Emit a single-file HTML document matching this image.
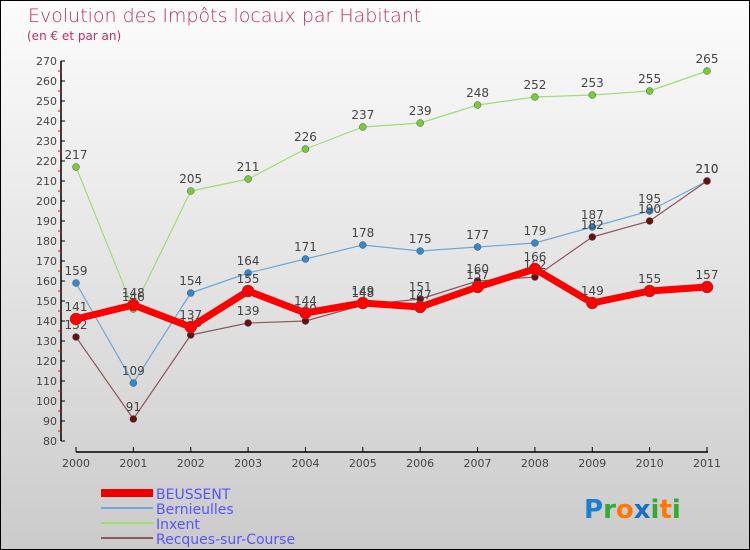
<!DOCTYPE html>
<html><head><meta charset="utf-8"><style>
body{margin:0}
#c{width:750px;height:550px;position:relative;box-sizing:border-box;border:1px solid #000;background:linear-gradient(#fcfcfc,#cbcbcb);font-family:"DejaVu Sans","Liberation Sans",sans-serif;overflow:hidden}
svg text{font-family:"DejaVu Sans","Liberation Sans",sans-serif}
</style></head><body>
<div id="c">
<svg id="s" width="750" height="550">
<text x="27" y="21" font-size="19" fill="#c0305f" font-weight="200">Evolution des Impôts locaux par Habitant</text>
<text x="26" y="39" font-size="12" fill="#c0305f">(en € et par an)</text>
<g id="axes"></g><g id="series"></g>
<g>
<rect x="100" y="488" width="52" height="8" fill="#e00"/>
<text x="155" y="498" font-size="14" fill="#55f">BEUSSENT</text>
<line x1="100" y1="507" x2="152" y2="507" stroke="#6fa8d6" stroke-width="2"/>
<text x="155" y="513" font-size="14" fill="#55f">Bernieulles</text>
<line x1="100" y1="522" x2="152" y2="522" stroke="#9fdc7a" stroke-width="2"/>
<text x="155" y="528" font-size="14" fill="#55f">Inxent</text>
<line x1="100" y1="537" x2="152" y2="537" stroke="#8a5a5a" stroke-width="2"/>
<text x="155" y="543" font-size="14" fill="#55f">Recques-sur-Course</text>
</g>
<text x="583" y="517" font-size="26" font-weight="bold"><tspan fill="#1a7fd0">P</tspan><tspan fill="#3a3">r</tspan><tspan fill="#f70">o</tspan><tspan fill="#1a6fc0">x</tspan><tspan fill="#3a3">i</tspan><tspan fill="#f70">t</tspan><tspan fill="#3a3">i</tspan></text>
</svg></div>
<script>
const years=[2000,2001,2002,2003,2004,2005,2006,2007,2008,2009,2010,2011];
const yTicks=[80,90,100,110,120,130,140,150,160,170,180,190,200,210,220,230,240,250,260,270];
const beussent=[141,148,137,155,144,149,147,157,166,149,155,157];
const bernieulles=[159,109,154,164,171,178,175,177,179,187,195,210];
const inxent=[217,146,205,211,226,237,239,248,252,253,255,265];
const recques=[132,91,133,139,140,148,151,160,162,182,190,210];
const NS='http://www.w3.org/2000/svg';
const xs=i=>75+i*(631/11);
const ys=v=>440-(v-80)*2;
function mk(t,a,p){const e=document.createElementNS(NS,t);for(const k in a)e.setAttribute(k,a[k]);p.appendChild(e);return e;}
const ax=document.getElementById('axes');
let yl=mk('line',{x1:60,y1:60,x2:60,y2:440,stroke:'#000','stroke-width':1.5},ax);

yTicks.forEach(v=>{
  mk('line',{x1:60,y1:ys(v),x2:64,y2:ys(v),stroke:'#000'},ax);
  if(v<270)mk('line',{x1:57,y1:ys(v+5),x2:60,y2:ys(v+5),stroke:'#f00'},ax);
  const t=mk('text',{x:56,y:ys(v)+4,'font-size':11,'text-anchor':'end',fill:'#444'},ax);t.textContent=v;
  
});
let xl=mk('line',{x1:75,y1:451,x2:707,y2:451,stroke:'#000','stroke-width':1.5},ax);

years.forEach((y,i)=>{
  mk('line',{x1:xs(i),y1:446,x2:xs(i),y2:451,stroke:'#000'},ax);
  const t=mk('text',{x:xs(i),y:466,'font-size':11,'text-anchor':'middle',fill:'#444'},ax);t.textContent=y;
  
});
const sg=document.getElementById('series');
function draw(vals,name,col,dot,w,r){
  const g=mk('g',{},sg);
  
  const l=mk('polyline',{points:vals.map((v,i)=>xs(i)+','+ys(v)).join(' '),fill:'none',stroke:col,'stroke-width':w,'stroke-linejoin':'round'},g);
  
  vals.forEach((v,i)=>{
    const c=mk('circle',{cx:xs(i),cy:ys(v),r:r,fill:dot,stroke:'#555','stroke-width':0.5},g);
    
    const t=mk('text',{x:xs(i),y:ys(v)-8,'font-size':12,'text-anchor':'middle',fill:'#444'},g);t.textContent=v;
    
  });
}
draw(inxent,'inxent','#9fdc7a','#7c3',1.2,3.5);
draw(bernieulles,'bernieulles','#6fa8d6','#38c',1.2,3.5);
draw(recques,'recques','#8a5a5a','#611',1.2,3.5);
draw(beussent,'beussent','#f00','#f00',7,6);
</script>
</body></html>
